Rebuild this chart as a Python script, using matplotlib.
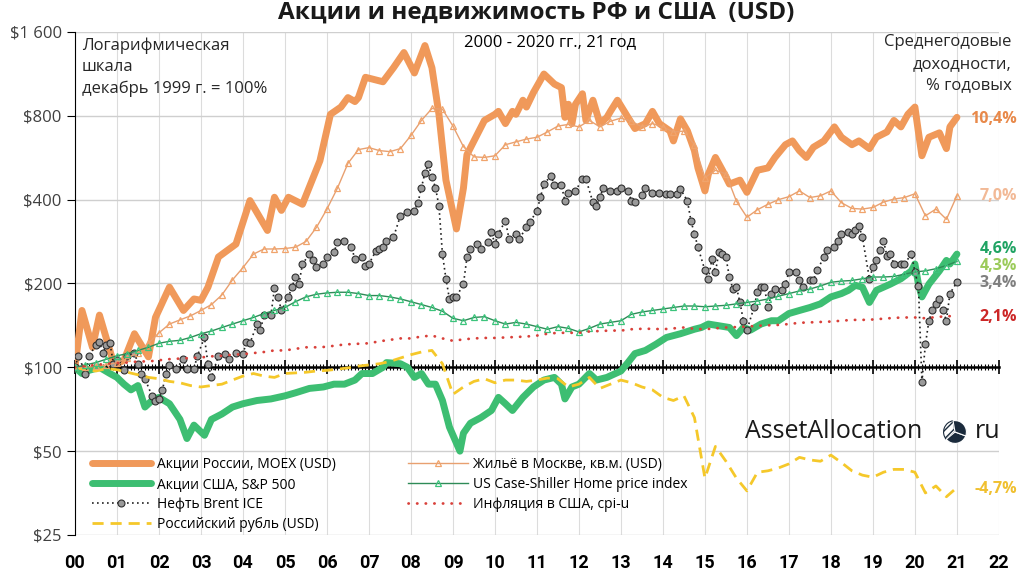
import numpy as np
import matplotlib
matplotlib.use('Agg')
import matplotlib.pyplot as plt
from matplotlib import font_manager

plt.rcParams['font.family'] = ['Open Sans', 'DejaVu Sans']

# Ось X: годы с декабря 1999 (0 = дек.1999). Квартальная сетка для плавных рядов
quarters = np.arange(85) / 4
year_labels = ['%02d' % i for i in range(23)]
y_ticks = [25, 50, 100, 200, 400, 800, 1600]
y_labels = ['$25', '$50', '$100', '$200', '$400', '$800', '$1 600']

# Акции России, MOEX (USD): месяц от дек.1999 -> значение
moex_m = [0, 2, 5, 7, 11, 12, 14, 17, 21, 23, 27, 31, 34, 36, 38, 41, 46, 50, 55, 57,
          59, 61, 65, 70, 73, 76, 78, 80, 81, 83, 88, 91, 94, 97, 98, 100, 102, 104, 106,
          109, 111, 112, 114, 117, 120, 121, 123, 125, 126, 128, 129, 131, 134, 137, 139,
          140, 141, 142, 143, 145, 146, 148, 150, 152, 153, 155, 158, 160, 163, 165, 167,
          170, 171, 173, 175, 177, 178, 180, 181, 183, 185, 187, 190, 192, 195, 198, 200,
          203, 205, 207, 209, 211, 214, 217, 219, 222, 224, 227, 229, 232, 234, 236, 238,
          240, 241, 242, 244, 247, 249, 250, 252]
moex = [100, 160, 118, 154, 104, 103, 106, 132, 109, 151, 194, 160, 176, 174, 194, 249,
        277, 397, 310, 408, 366, 408, 385, 552, 810, 860, 930, 900, 930, 1100, 1060, 1190,
        1350, 1140, 1230, 1430, 1190, 810, 470, 314, 440, 580, 650, 770, 810, 830, 750,
        830, 810, 910, 860, 970, 1130, 1040, 1010, 790, 880, 750, 880, 960, 770, 910, 750,
        790, 830, 910, 790, 720, 750, 830, 750, 706, 650, 780, 706, 600, 520, 430, 495,
        567, 510, 455, 470, 425, 510, 520, 567, 630, 650, 600, 567, 617, 650, 730, 670,
        630, 650, 610, 670, 700, 770, 730, 810, 860, 700, 575, 670, 695, 610, 730, 790]

# Акции США, S&P 500
spx_m = [0, 2, 4, 7, 10, 12, 14, 16, 18, 20, 22, 24, 27, 30, 32, 34, 37, 39, 42, 45, 48,
         52, 56, 60, 63, 67, 71, 74, 77, 80, 82, 85, 88, 89, 93, 95, 97, 99, 101, 103, 105,
         107, 110, 111, 113, 116, 119, 121, 123, 125, 128, 131, 134, 137, 139, 140, 142,
         144, 147, 149, 152, 156, 158, 160, 163, 166, 169, 173, 177, 179, 181, 184, 187,
         189, 191, 193, 196, 199, 201, 204, 207, 210, 213, 216, 219, 221, 223, 225, 227,
         229, 233, 236, 239, 240, 241, 242, 244, 247, 249, 250, 252]
spx = [100, 95, 97.5, 100, 95, 92, 87, 83, 86, 72, 76, 78, 74, 65, 55.5, 62, 57, 65, 68,
       72, 74, 76, 77, 79, 81, 84, 85, 87, 87, 90, 95, 95, 100, 104, 103, 100, 92, 95, 87,
       87, 76, 61, 50, 58, 63, 66, 70, 78, 74, 70, 78, 85, 90, 92, 87, 77, 85, 87, 95, 90,
       92, 97, 104, 112, 115, 121, 128, 132, 137, 139, 143, 141, 139, 130, 139, 136, 143,
       147, 147, 156, 160, 164, 169, 179, 184, 189, 197, 194, 171, 189, 199, 208, 222, 235,
       199, 179, 199, 222, 242, 235, 255]

# Нефть Brent ICE
oil_m = [0, 1, 3, 4, 6, 7, 8, 9, 10, 11, 12, 14, 15, 17, 18, 19, 20, 22, 23, 24, 25, 26,
         27, 29, 31, 32, 34, 35, 37, 38, 39, 41, 43, 44, 46, 48, 49, 50, 52, 53, 54, 56, 57,
         58, 59, 61, 62, 63, 64, 65, 67, 68, 69, 71, 72, 74, 75, 77, 79, 80, 82, 83, 84, 86,
         87, 88, 89, 91, 93, 95, 97, 98, 99, 100, 101, 102, 103, 104, 105, 106, 107, 108,
         109, 111, 112, 113, 115, 116, 118, 119, 120, 121, 123, 124, 126, 127, 129, 130,
         132, 133, 134, 136, 137, 139, 140, 141, 143, 145, 146, 148, 149, 150, 151, 153,
         155, 156, 158, 159, 160, 162, 163, 165, 167, 169, 170, 172, 173, 175, 176, 177,
         178, 180, 181, 182, 183, 184, 185, 186, 187, 188, 189, 190, 191, 192, 194, 195,
         196, 197, 198, 199, 200, 202, 203, 204, 206, 207, 208, 210, 211, 212, 214, 215,
         217, 218, 219, 221, 222, 223, 224, 225, 227, 228, 229, 230, 231, 232, 233, 234,
         236, 237, 239, 240, 241, 242, 243, 244, 245, 246, 247, 248, 249, 250, 252]
oil = [100, 110, 95, 110, 120, 123, 113, 120, 122, 103, 106, 97.5, 110, 113, 103, 95, 91,
       79, 76, 77, 83, 95, 102, 99, 107, 99, 99, 110, 128, 103, 92, 110, 112, 107, 113, 112,
       123, 122, 143, 136, 154, 154, 192, 179, 160, 179, 194, 211, 199, 235, 255, 242, 229,
       235, 248, 259, 281, 285, 270, 245, 248, 232, 235, 262, 266, 270, 285, 293, 350, 360,
       365, 390, 442, 500, 535, 482, 442, 380, 255, 208, 176, 179, 179, 199, 248, 266, 277,
       266, 281, 305, 277, 302, 336, 290, 302, 290, 318, 332, 365, 408, 455, 487, 450, 450,
       396, 424, 430, 474, 474, 391, 380, 408, 442, 430, 430, 442, 430, 396, 391, 414, 442,
       424, 424, 418, 418, 418, 436, 396, 336, 302, 270, 223, 208, 245, 220, 259, 255, 248,
       211, 191, 194, 171, 147, 136, 164, 186, 194, 194, 164, 184, 191, 189, 199, 220, 220,
       205, 194, 205, 205, 223, 248, 263, 270, 285, 301, 305, 301, 310, 322, 293, 208, 229,
       242, 263, 285, 252, 255, 235, 235, 235, 255, 220, 196, 88.6, 121, 147, 160, 169, 176,
       160, 147, 184, 202]

# Российский рубль (USD), поквартально
rub = [100, 98, 97, 99, 98, 96, 94, 92, 91, 89, 88, 86, 85, 86, 87, 90, 93, 95, 93, 92,
       95, 95.5, 96, 97, 97.5, 98.5, 99.5, 101, 102, 103, 105, 108, 111, 113.5, 115, 103,
       80, 85, 89, 91, 88, 90, 90, 89, 90, 91.5, 91, 85, 87, 92, 84, 87, 90, 88, 85, 83,
       78, 76, 79, 66, 40, 52, 46, 40, 36, 42, 42.5, 43.5, 45, 47.5, 46.5, 46, 48.4, 45.5,
       42.5, 41, 40.3, 42, 43, 43, 42, 35.4, 37.5, 34.3, 37]

# Жильё в Москве, кв.м. (USD), поквартально
msk = [100, 100, 101, 102, 104, 108, 113, 122, 133, 143, 148, 153, 160, 168, 182, 206,
       228, 255, 266, 266, 267, 270, 283, 318, 370, 440, 540, 605, 615, 600, 595, 610,
       680, 770, 850, 845, 735, 620, 570, 567, 575, 630, 645, 660, 670, 700, 735, 745,
       730, 770, 730, 765, 785, 765, 730, 750, 730, 700, 705, 630, 480, 510, 495, 395,
       346, 368, 385, 400, 410, 430, 407, 413, 430, 390, 372, 370, 375, 392, 402, 407,
       420, 350, 370, 340, 413]

# US Case-Shiller Home price index, поквартально
cs = [100, 102, 104, 107, 110, 112, 115, 118, 122, 124, 125, 128, 132, 135, 139, 143,
      147, 151, 156, 160, 164, 172, 179, 183, 185, 186, 186, 184, 181, 181, 179, 176,
      172, 168, 164, 159, 150, 147, 151, 152, 147, 143, 145, 143, 140, 137, 140, 138,
      134, 138, 143, 145, 147, 155, 158, 160, 162, 164, 166, 166, 165, 166, 167, 169,
      171, 173, 176, 180, 184, 188, 191, 196, 202, 204, 205, 208, 211, 211, 212, 216,
      220, 222, 226, 232, 240]

# Инфляция в США, cpi-u, поквартально
cpi = [100, 101, 102, 103, 103.5, 104, 105, 105, 106, 107, 107.5, 108, 108.5, 109.5, 110,
       111, 111.5, 112.5, 113.5, 115, 115, 116.5, 118, 118, 118.5, 120, 121, 121.5, 122,
       124, 125.5, 127, 127, 129, 130, 127, 124.5, 126, 127, 127.5, 127.5, 128, 128.5, 129,
       130, 132, 133, 133, 133, 134.5, 135, 135.5, 135.5, 137, 137.5, 137.5, 137, 138, 139,
       137.5, 137, 138, 139, 139.5, 140, 141, 141.5, 142, 143, 144.5, 145, 145.5, 146, 147,
       148, 148, 148.5, 149.5, 150.5, 151, 151, 150, 151.5, 152.5, 153]

# Среднегодовые доходности (подписи справа)
ret_labels = ['10,4%', '7,0%', '4,6%', '4,3%', '3,4%', '2,1%', '-4,7%']
ret_pos = [780, 413, 267, 232, 200, 152, 36.5]
ret_colors = ['#E8894A', '#F2B996', '#1FA363', '#9BCB5A', '#7F7F7F', '#CC2626', '#F0C030']

names = {f.name for f in font_manager.fontManager.ttflist}
narrow = 'Liberation Sans Narrow' if 'Liberation Sans Narrow' in names else 'Roboto'

fig = plt.figure(figsize=(10.24, 5.72), dpi=100)
ax = fig.add_axes([0.0732, 0.0647, 0.9023, 0.8794])
ax.set_yscale('log', base=2)
ax.set_ylim(25, 1600)
ax.set_xlim(0, 22)

l_moex, = ax.plot(np.array(moex_m) / 12, moex, color='#F0995A', lw=5,
                  solid_joinstyle='round', solid_capstyle='round', zorder=3,
                  label='Акции России, MOEX (USD)')
l_spx, = ax.plot(np.array(spx_m) / 12, spx, color='#3DBE72', lw=5,
                 solid_joinstyle='round', solid_capstyle='round', zorder=3,
                 label='Акции США, S&P 500')
l_oil, = ax.plot(np.array(oil_m) / 12, oil, color='#222222', lw=1.2, ls=(0, (1, 2)),
                 marker='o', ms=5, mfc='#9A9A9A', mec='#303030', mew=0.8, zorder=4,
                 label='Нефть Brent ICE')
l_rub, = ax.plot(quarters, rub, color='#F5C82A', lw=2, ls=(0, (4, 2.5)), zorder=4,
                 label='Российский рубль (USD)')
l_msk, = ax.plot(quarters, msk, color='#E8A070', lw=1, marker='^', ms=5, mfc='none',
                 mec='#F0A46C', mew=0.9, zorder=5, label='Жильё в Москве, кв.м. (USD)')
l_cs, = ax.plot(quarters, cs, color='#2E8B57', lw=1, marker='^', ms=5, mfc='none',
                mec='#3CC47C', mew=0.9, zorder=5, label='US Case-Shiller Home price index')
l_cpi, = ax.plot(quarters, cpi, color='#D9403A', lw=2, ls=(0, (0.1, 3)),
                 dash_capstyle='round', zorder=5, label='Инфляция в США, cpi-u')

# оси и сетка
ax.set_yticks(y_ticks)
ax.set_yticklabels(y_labels, fontsize=12, color='#404040')
ax.yaxis.set_minor_locator(plt.NullLocator())
ax.tick_params(axis='y', direction='out', length=6, color='black')
ax.set_xticks(range(23))
ax.set_xticks(np.arange(0, 22.01, 1 / 12), minor=True)
ax.tick_params(axis='x', which='major', direction='inout', length=10, width=1.2,
               labelbottom=False)
ax.tick_params(axis='x', which='minor', direction='inout', length=5, width=0.8)
ax.spines['bottom'].set_position(('data', 100))
ax.spines['bottom'].set_linewidth(1.8)
ax.spines['left'].set_color('black')
ax.spines['top'].set_visible(False)
ax.spines['right'].set_visible(False)
ax.grid(axis='x', which='major', color='#DCDCDC', lw=0.8, zorder=0)
ax.grid(axis='y', which='major', color='#CFCFCF', lw=1, zorder=0)

sec = ax.secondary_xaxis('bottom')
sec.set_xticks(range(23))
sec.set_xticklabels(year_labels, fontsize=13, fontweight='bold', family=[narrow, 'DejaVu Sans'])
sec.tick_params(length=0, pad=14)
sec.spines['bottom'].set_visible(False)

# легенда
leg = ax.legend(handles=[l_moex, l_spx, l_oil, l_rub, l_msk, l_cs, l_cpi],
                loc='lower left', bbox_to_anchor=(0.012, -0.005), ncol=2, frameon=False,
                fontsize=10, handlelength=4.3, handletextpad=0.4, columnspacing=5.2,
                labelspacing=0.36, borderaxespad=0)

# подписи
fig.text(0.524, 0.978, 'Акции и недвижимость РФ и США  (USD)', ha='center', va='center',
         fontsize=17.5, fontweight='bold', color='#1a1a1a')
fig.text(0.537, 0.926, '2000 - 2020 гг., 21 год', ha='center', va='center', fontsize=12)
fig.text(0.080, 0.935, 'Логарифмическая\nшкала\nдекабрь 1999 г. = 100%', ha='left',
         va='top', fontsize=12, linespacing=1.45, color='#262626')
fig.text(0.988, 0.940, 'Среднегодовые\nдоходности,\n% годовых', ha='right', va='top',
         fontsize=12, linespacing=1.45, color='#262626')

for lab, pos, col in zip(ret_labels, ret_pos, ret_colors):
    ax.text(1.0195, pos, lab, transform=ax.get_yaxis_transform(), ha='right',
            va='center', fontsize=11.5, fontweight='bold', color=col, clip_on=False)

# водяной знак
fig.text(0.7275, 0.2448, 'AssetAllocation', ha='left', va='center', fontsize=18,
         color='#1a1a1a')
fig.text(0.952, 0.2448, 'ru', ha='left', va='center', fontsize=18, color='#1a1a1a')
ax_logo = fig.add_axes([943 / 1024, 1 - 444 / 572, 24 / 1024, 24 / 572])
wedges, _ = ax_logo.pie([1, 1, 1], colors=['#1B2B3C', '#1B2B3C', '#1B2B3C'], startangle=100,
                        radius=1, wedgeprops=dict(edgecolor='white', linewidth=0.8))
wedges[0].set_hatch('////')
wedges[0].set_facecolor('white')
wedges[0].set_edgecolor('#1B2B3C')
ax_logo.set_xlim(-1.05, 1.05)
ax_logo.set_ylim(-1.05, 1.05)
ax_logo.set_aspect('equal')
ax_logo.axis('off')

fig.savefig('out.png', dpi=100)
